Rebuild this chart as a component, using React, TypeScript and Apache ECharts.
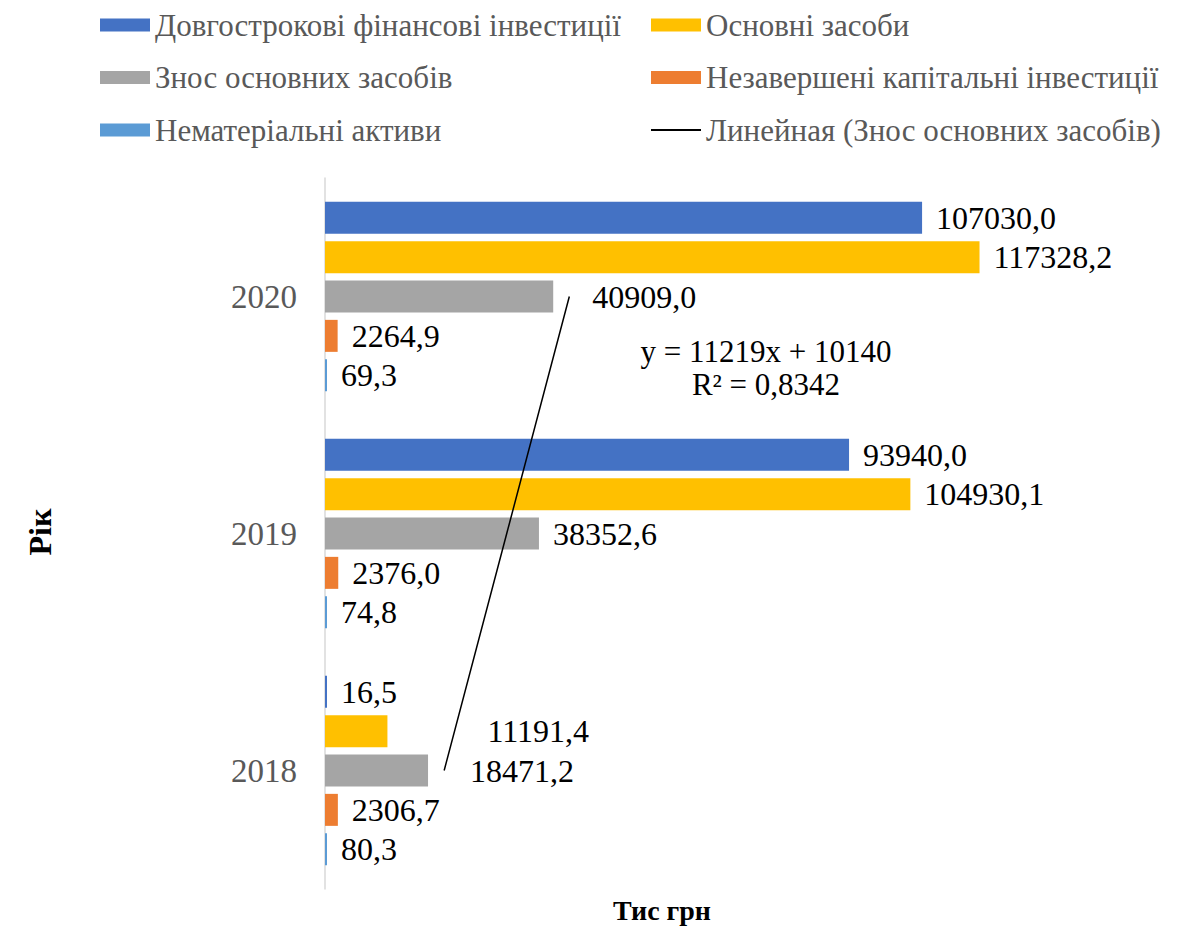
import React, { useEffect, useRef } from "react";
import * as echarts from "echarts";

const categories = ["2018", "2019", "2020"];
const longTermInvestments = [16.5, 93940.0, 107030.0];
const fixedAssets = [11191.4, 104930.1, 117328.2];
const depreciation = [18471.2, 38352.6, 40909.0];
const unfinishedCapital = [2306.7, 2376.0, 2264.9];
const intangibleAssets = [80.3, 74.8, 69.3];
const depreciationTrend = [21359, 32578, 43797];

const seriesNames = [
  "Довгострокові фінансові інвестиції",
  "Основні засоби",
  "Знос основних засобів",
  "Незавершені капітальні інвестиції",
  "Нематеріальні активи",
  "Линейная (Знос основних засобів)",
];
const equationText = "y = 11219x + 10140\nR² = 0,8342";
const xAxisTitle = "Тис грн";
const yAxisTitle = "Рік";

const FONT = "Liberation Serif";

export default function App() {
  const ref = useRef<HTMLDivElement>(null);
  useEffect(() => {
    if (!ref.current) return;
    const chart = echarts.init(ref.current, null, { renderer: "svg" });
    const fmt = (p: any) => Number(p.value).toFixed(1).replace(".", ",");
    const labelBase = {
      show: true,
      position: "right",
      distance: 14,
      color: "#000",
      fontFamily: FONT,
      fontSize: 32,
      formatter: fmt,
    };
    const withShift = (arr: number[], shifts: Record<number, number>) =>
      arr.map((v, i) =>
        shifts[i] !== undefined ? { value: v, label: { offset: [shifts[i], 0] } } : v
      );
    const barCommon = {
      type: "bar",
      barWidth: 32,
      barGap: "23%",
      barMinHeight: 2,
      label: labelBase,
    };
    const legendText = { color: "#595959", fontFamily: FONT, fontSize: 31, lineHeight: 32 };
    const legendCommon = {
      top: 9,
      orient: "vertical",
      itemWidth: 50,
      itemHeight: 13,
      itemGap: 20.5,
      padding: 0,
      textStyle: legendText,
    };
    const option: any = {
      animation: false,
      legend: [
        {
          ...legendCommon,
          left: 100,
          data: [
            { name: seriesNames[0], icon: "rect" },
            { name: seriesNames[2], icon: "rect" },
            { name: seriesNames[4], icon: "rect" },
          ],
        },
        {
          ...legendCommon,
          left: 650,
          data: [
            { name: seriesNames[1], icon: "rect" },
            { name: seriesNames[3], icon: "rect" },
            { name: seriesNames[5], itemStyle: { opacity: 0 } },
          ],
        },
      ],
      grid: { left: 325, top: 178, width: 781, height: 711, containLabel: false },
      xAxis: {
        type: "value",
        min: 0,
        max: 140000,
        show: false,
        splitLine: { show: false },
      },
      yAxis: {
        type: "category",
        data: categories,
        axisLine: { show: true, lineStyle: { color: "#D9D9D9", width: 1.5 } },
        axisTick: { show: false },
        axisLabel: { color: "#595959", fontFamily: FONT, fontSize: 33, margin: 28 },
      },
      series: [
        { ...barCommon, name: seriesNames[0], data: longTermInvestments, itemStyle: { color: "#4472C4" } },
        { ...barCommon, name: seriesNames[1], data: withShift(fixedAssets, { 0: 86 }), itemStyle: { color: "#FFC000" } },
        { ...barCommon, name: seriesNames[2], data: withShift(depreciation, { 0: 28, 2: 25 }), itemStyle: { color: "#A5A5A5" } },
        { ...barCommon, name: seriesNames[3], data: unfinishedCapital, itemStyle: { color: "#ED7D31" } },
        { ...barCommon, name: seriesNames[4], data: intangibleAssets, itemStyle: { color: "#5B9BD5" } },
        {
          type: "line",
          name: seriesNames[5],
          data: depreciationTrend,
          symbol: "none",
          showSymbol: false,
          lineStyle: { color: "#000", width: 1.5 },
          itemStyle: { color: "#000" },
          z: 5,
        },
      ],
      graphic: [
        {
          type: "text",
          x: 766,
          y: 368,
          style: {
            text: equationText,
            fill: "#000",
            fontFamily: FONT,
            fontSize: 31,
            lineHeight: 33,
            textAlign: "center",
            textVerticalAlign: "middle",
          },
        },
        {
          type: "text",
          x: 662,
          y: 910,
          style: {
            text: xAxisTitle,
            fill: "#000",
            fontFamily: FONT,
            fontSize: 28,
            fontWeight: "bold",
            textAlign: "center",
            textVerticalAlign: "middle",
          },
        },
        {
          type: "text",
          x: 40,
          y: 532,
          rotation: Math.PI / 2,
          style: {
            text: yAxisTitle,
            fill: "#000",
            fontFamily: FONT,
            fontSize: 32,
            fontWeight: "bold",
            textAlign: "center",
            textVerticalAlign: "middle",
          },
        },
      ],
    };
    chart.setOption(option);
    return () => chart.dispose();
  }, []);
  return <div ref={ref} style={{ width: 1177, height: 929, position: "absolute", left: 0, top: 0 }} />;
}
